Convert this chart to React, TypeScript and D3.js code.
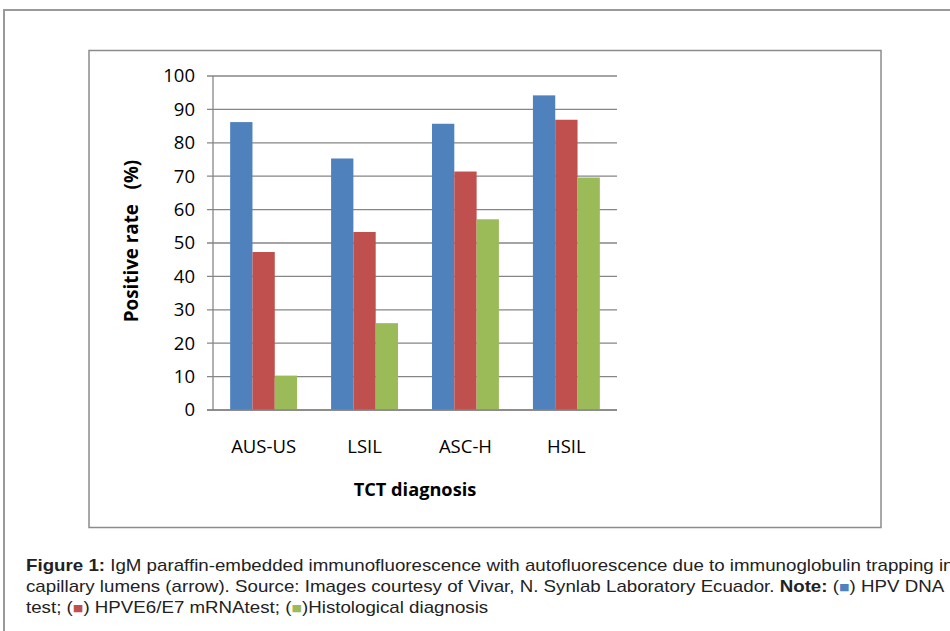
import React from "react";
import * as d3 from "d3";

const categories = ["AUS-US", "LSIL", "ASC-H", "HSIL"];
const seriesNames = ["HPV DNA", "HPVE6/E7 mRNAtest", "Histological diagnosis"];
const hpvDna = [86.2, 75.3, 85.7, 94.2];
const mRna = [47.3, 53.3, 71.4, 86.9];
const histo = [10.3, 26.0, 57.1, 69.6];
const yTicks = [0, 10, 20, 30, 40, 50, 60, 70, 80, 90, 100];
const colors = ["#4F81BD", "#C0504D", "#9BBB59"];

export default function App() {
  const W = 950, H = 631;
  const left = 213, right = 617, top = 76, bottom = 410;
  const x = d3.scaleBand<string>().domain(categories).range([left, right]).paddingInner(0.337).paddingOuter(0.17);
  const sub = d3.scaleBand<number>().domain([0, 1, 2]).range([0, x.bandwidth()]);
  const y = d3.scaleLinear().domain([0, 100]).range([bottom, top]);
  const series = [hpvDna, mRna, histo];
  const font = "'Open Sans', Lato, sans-serif";
  const capFont = "'Liberation Sans', Arial, sans-serif";
  return (
    <svg width={W} height={H} style={{ position: "absolute", left: 0, top: 0, background: "#fff" }}>
      <rect x={4} y={10} width={1000} height={700} fill="none" stroke="#9a9a9a" strokeWidth={2} />
      <rect x={89} y={50.5} width={792} height={477} fill="none" stroke="#8c8c8c" strokeWidth={1.5} />
      {yTicks.map((t) => (
        <g key={t}>
          <line x1={left - 6} x2={right} y1={y(t)} y2={y(t)} stroke="#868686" strokeWidth={1.3} />
          <text x={195} y={y(t)} dy="0.35em" textAnchor="end" fontFamily={font} fontSize={18.5} fill="#000">{t}</text>
        </g>
      ))}
      <line x1={left} x2={left} y1={top} y2={bottom} stroke="#868686" strokeWidth={1.3} />
      {categories.map((c, i) => (
        <g key={c}>
          {series.map((s, j) => (
            <rect key={j} x={(x(c) as number) + (sub(j) as number)} y={y(s[i])} width={sub.bandwidth()} height={bottom - y(s[i])} fill={colors[j]} />
          ))}
          <text x={(x(c) as number) + x.bandwidth() / 2} y={447} dy="0.35em" textAnchor="middle" fontFamily={font} fontSize={18.5}>{c}</text>
        </g>
      ))}
      <line x1={left - 6} x2={right} y1={bottom} y2={bottom} stroke="#868686" strokeWidth={1.3} />
      <text x={415} y={490} dy="0.35em" textAnchor="middle" fontFamily={font} fontWeight="bold" fontSize={18.2}>TCT diagnosis</text>
      <text transform={`translate(131,241) rotate(-90)`} dy="0.35em" textAnchor="middle" fontFamily={font} fontWeight="bold" fontSize={18.8} style={{ whiteSpace: "pre" }}>{"Positive rate   (%)"}</text>
      <g fontFamily={capFont} fontSize={16} fill="#222" transform="translate(26,0) scale(1.17,1)">
        <text x={0} y={571}>
          <tspan fontWeight="bold">Figure 1:</tspan>
          <tspan> IgM paraffin-embedded immunofluorescence with autofluorescence due to immunoglobulin trapping in</tspan>
        </text>
        <text x={0} y={592}>
          <tspan>capillary lumens (arrow). Source: Images courtesy of Vivar, N. Synlab Laboratory Ecuador. </tspan>
          <tspan fontWeight="bold">Note:</tspan>
          <tspan> (</tspan>
          <tspan fill={colors[0]} fontSize={15}>■</tspan>
          <tspan>) {seriesNames[0]}</tspan>
        </text>
        <text x={0} y={613}>
          <tspan>test; (</tspan>
          <tspan fill={colors[1]} fontSize={15}>■</tspan>
          <tspan>) {seriesNames[1]}; (</tspan>
          <tspan fill={colors[2]} fontSize={15}>■</tspan>
          <tspan>){seriesNames[2]}</tspan>
        </text>
      </g>
    </svg>
  );
}
